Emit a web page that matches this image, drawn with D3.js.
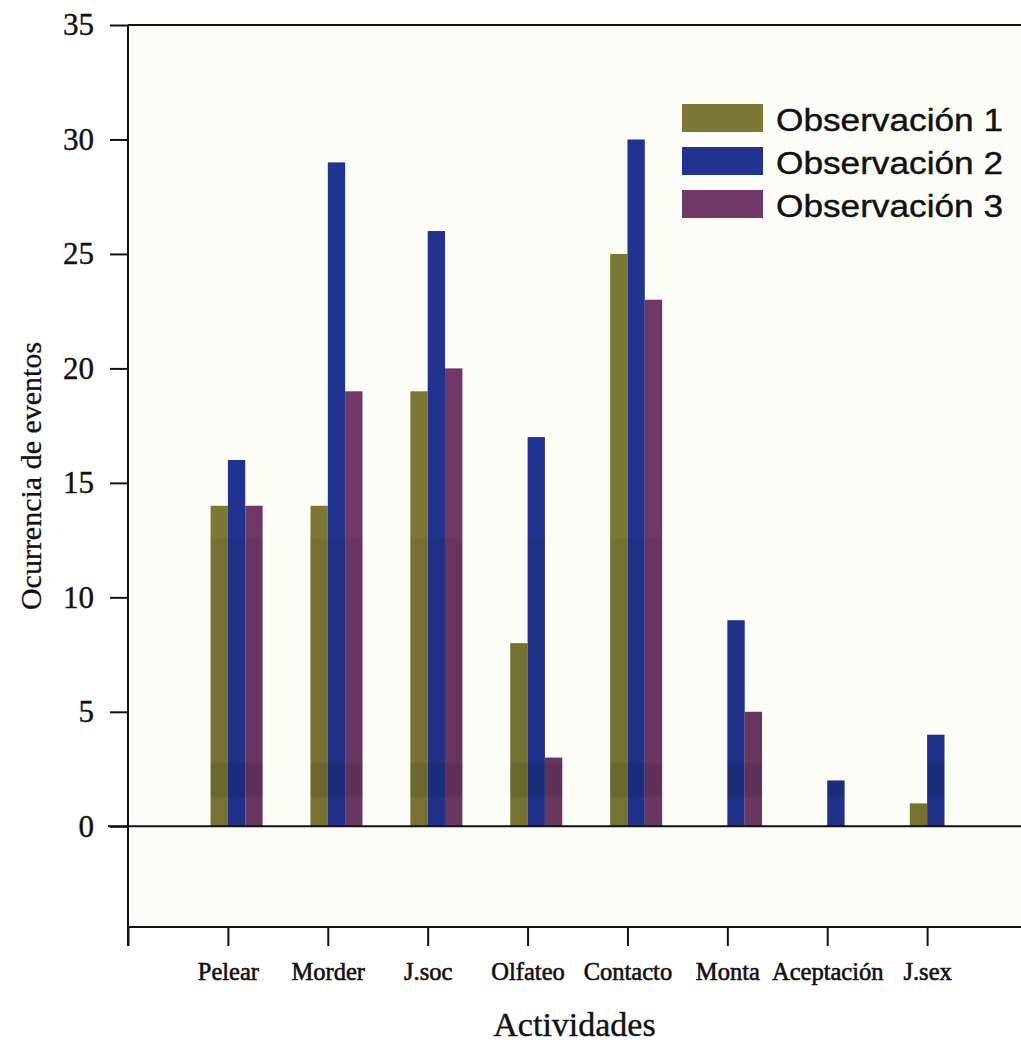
<!DOCTYPE html>
<html><head><meta charset="utf-8">
<script src="https://cdn.jsdelivr.net/npm/d3@7"></script>
<style>
html,body{margin:0;padding:0;background:#fff;}
svg{display:block;}
</style></head>
<body>
<script>
const categories = ["Pelear","Morder","J.soc","Olfateo","Contacto","Monta","Aceptación","J.sex"];
const series = ["Observación 1","Observación 2","Observación 3"];
const obs1 = [14,14,19,8,25,0,0,1];
const obs2 = [16,29,26,17,30,9,2,4];
const obs3 = [14,19,20,3,23,5,0,0];
const yTicks = [0,5,10,15,20,25,30,35];
const colors = ["#7c7836","#22338f","#6f3866"];

const W = 1021, H = 1044;
const svg = d3.select("body").append("svg").attr("width", W).attr("height", H);

const x = d3.scaleLinear().domain([0, 9]).range([128, 1027]);
const y = d3.scaleLinear().domain([-4.4, 35]).range([927, 25]);
const sub = d3.scaleBand().domain(series).range([-17.3, 34.7]).padding(0);

const serif = "'Liberation Serif','Times New Roman',serif";

// plot background
svg.append("rect").attr("x", x(0)).attr("y", y(35)).attr("width", W - x(0)).attr("height", y(-4.4) - y(35))
  .attr("fill", "#fdfdf8");

const data = [obs1, obs2, obs3];
const rows = [];
categories.forEach((c, i) => series.forEach((s, j) => rows.push({c, i, s, j, v: data[j][i]})));

const defs = svg.append("defs");
const clip = defs.append("clipPath").attr("id", "barclip");
const bars = svg.append("g");
rows.filter(d => d.v > 0).forEach(d => {
  const bx = x(d.i + 1) + sub(d.s), by = y(d.v), bw = sub.bandwidth(), bh = y(0) - y(d.v);
  bars.append("rect").attr("x", bx).attr("y", by).attr("width", bw).attr("height", bh).attr("fill", colors[d.j]);
  clip.append("rect").attr("x", bx).attr("y", by).attr("width", bw).attr("height", bh);
});
// scan shading overlay
const grad = defs.append("linearGradient").attr("id", "shade").attr("gradientUnits", "userSpaceOnUse")
  .attr("x1", 0).attr("x2", 0).attr("y1", 25).attr("y2", 827);
const stops = [[25,0],[537,0],[539,0.06],[762,0.06],[764,0.14],[796,0.14],[798,0.05],[827,0.05]];
stops.forEach(([py, o]) => grad.append("stop").attr("offset", (py - 25) / 802).attr("stop-color", "#000").attr("stop-opacity", o));
svg.append("rect").attr("x", 128).attr("y", 25).attr("width", W - 128).attr("height", 802)
  .attr("fill", "url(#shade)").attr("clip-path", "url(#barclip)");

// y axis
const yAxis = svg.append("g").attr("transform", `translate(${x(0)},0)`)
  .call(d3.axisLeft(y).tickValues(yTicks).tickSize(18).tickPadding(16).tickFormat(d3.format("d")));
yAxis.select(".domain").remove();
yAxis.selectAll("line").attr("stroke", "#111").attr("stroke-width", 2);
yAxis.selectAll("text").attr("font-family", serif).attr("font-size", 31).attr("fill", "#111")
  .attr("stroke", "#111").attr("stroke-width", 0.4);

// x axis (frame bottom)
const xAxis = svg.append("g").attr("transform", `translate(0,${y(-4.4)})`)
  .call(d3.axisBottom(x).tickValues(d3.range(0, 9)).tickSize(19).tickPadding(17)
    .tickFormat(d => d === 0 ? "" : categories[d - 1]));
xAxis.select(".domain").remove();
xAxis.selectAll("line").attr("stroke", "#111").attr("stroke-width", 2);
xAxis.selectAll("text").attr("font-family", serif).attr("font-size", 24.5).attr("fill", "#111")
  .attr("stroke", "#111").attr("stroke-width", 0.6);

// frame lines
const ln = (x1, y1, x2, y2) => svg.append("line").attr("x1", x1).attr("y1", y1).attr("x2", x2).attr("y2", y2)
  .attr("stroke", "#111").attr("stroke-width", 2);
ln(x(0), y(35), x(0), y(-4.4) + 19);
ln(x(0), y(35), W, y(35));
ln(108, y(0), W, y(0));
ln(x(0), y(-4.4), W, y(-4.4));

// axis titles
svg.append("text").attr("x", (x(0) + W) / 2).attr("y", 1036).attr("text-anchor", "middle")
  .attr("font-family", serif).attr("font-size", 34).attr("fill", "#111")
  .attr("stroke", "#111").attr("stroke-width", 0.4).text("Actividades");
svg.append("text").attr("transform", `translate(41,${(y(35) + y(-4.4)) / 2}) rotate(-90)`).attr("text-anchor", "middle")
  .attr("font-family", serif).attr("font-size", 30).attr("fill", "#111")
  .attr("stroke", "#111").attr("stroke-width", 0.3).text("Ocurrencia de eventos");

// legend
const lg = svg.append("g");
series.forEach((s, j) => {
  const top = 104 + j * 43;
  lg.append("rect").attr("x", 682).attr("y", top).attr("width", 81).attr("height", 28).attr("fill", colors[j]);
  lg.append("text").attr("x", 776).attr("y", top + 27).attr("font-family", "'Liberation Sans',Arial,sans-serif")
    .attr("font-size", 31).attr("textLength", 227).attr("lengthAdjust", "spacingAndGlyphs").attr("fill", "#111")
    .attr("stroke", "#111").attr("stroke-width", 0.4).text(s);
});
</script>
</body></html>
